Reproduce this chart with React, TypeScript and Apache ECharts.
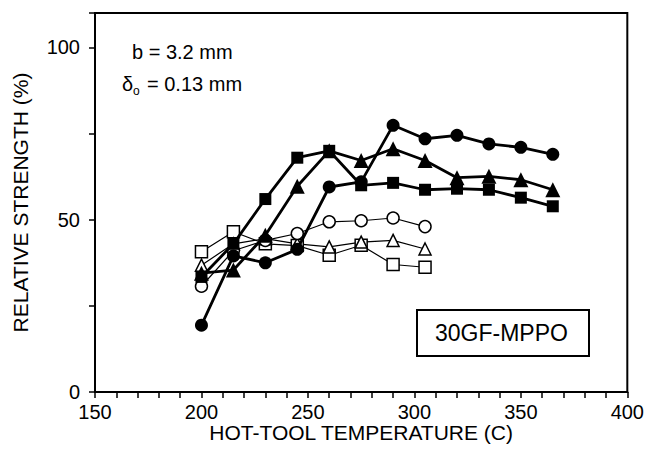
import React, { useEffect, useRef } from "react";
import * as echarts from "echarts";

const temps = [200, 215, 230, 245, 260, 275, 290, 305, 320, 335, 350, 365];
const tempsShort = [200, 215, 230, 245, 260, 275, 290, 305];

const filledCircle = [19.4, 39.5, 37.5, 41.4, 59.5, 61, 77.4, 73.5, 74.5, 72, 71, 69];
const filledSquare = [33.4, 43, 56, 68, 70, 60, 60.7, 58.7, 59, 58.7, 56.4, 53.9];
const filledTriangle = [34.5, 35.4, 45.5, 59.7, 70, 67.2, 70.6, 67.2, 62.2, 62.6, 61.6, 58.7];
const openCircle = [30.7, 41, 44, 46, 49.4, 49.7, 50.5, 48];
const openTriangle = [36.8, 43, 44.5, 43, 42.1, 43.5, 44, 41.5];
const openSquare = [40.7, 46.5, 43, 42.5, 39.7, 42.6, 37, 36.2];

const xLabels = [150, 200, 250, 300, 350, 400];
const yLabels = [0, 50, 100];

const FONT = "'Liberation Sans', Arial, Helvetica, sans-serif";

function pairs(xs: number[], ys: number[]) {
  return ys.map((v, i) => [xs[i], v]);
}

export default function App() {
  const ref = useRef<HTMLDivElement>(null);
  useEffect(() => {
    if (!ref.current) return;
    const chart = echarts.init(ref.current, undefined, { renderer: "svg" });
    const thin = (name: string, data: number[], symbol: string, size: number) => ({
      name,
      type: "line",
      data: pairs(tempsShort, data),
      symbol,
      symbolSize: size,
      lineStyle: { color: "#000", width: 1.2 },
      itemStyle: { color: "#fff", borderColor: "#000", borderWidth: 1.5 },
      z: 2,
    });
    const thick = (name: string, data: number[], symbol: string, size: number) => ({
      name,
      type: "line",
      data: pairs(temps, data),
      symbol,
      symbolSize: size,
      lineStyle: { color: "#000", width: 2.8 },
      itemStyle: { color: "#000", borderColor: "#000", borderWidth: 0 },
      z: 3,
    });
    chart.setOption({
      animation: false,
      backgroundColor: "#fff",
      grid: {
        left: 95,
        right: 17,
        top: 13,
        bottom: 75,
        show: true,
        borderColor: "#000",
        borderWidth: 2,
      },
      xAxis: {
        type: "value",
        min: 150,
        max: 400,
        interval: 10,
        name: "HOT-TOOL TEMPERATURE (C)",
        nameLocation: "middle",
        nameGap: 30,
        nameMoveOverlap: false,
        nameTextStyle: { color: "#000", fontSize: 21, fontFamily: FONT },
        axisLine: { lineStyle: { color: "#000", width: 2 } },
        axisTick: { length: 6, lineStyle: { color: "#000", width: 1.5 } },
        splitLine: { show: false },
        axisLabel: {
          color: "#000",
          fontSize: 20,
          fontFamily: FONT,
          margin: 10,
          formatter: (v: number) => (xLabels.includes(v) ? String(v) : ""),
        },
      },
      yAxis: {
        type: "value",
        min: 0,
        max: 110,
        interval: 25,
        name: "RELATIVE STRENGTH (%)",
        nameLocation: "middle",
        nameGap: 64,
        nameMoveOverlap: false,
        nameTextStyle: { color: "#000", fontSize: 21, fontFamily: FONT },
        axisLine: { lineStyle: { color: "#000", width: 2 } },
        axisTick: { length: 6, lineStyle: { color: "#000", width: 1.5 } },
        splitLine: { show: false },
        axisLabel: {
          color: "#000",
          fontSize: 20,
          fontFamily: FONT,
          margin: 15,
          formatter: (v: number) => (yLabels.includes(v) ? String(v) : ""),
        },
      },
      graphic: [
        {
          type: "text",
          left: 132,
          top: 42,
          style: { text: "b = 3.2 mm", fontSize: 20, fontFamily: FONT, fill: "#000" },
        },
        {
          type: "text",
          left: 122,
          top: 74,
          style: { text: "δ", fontSize: 20, fontFamily: FONT, fill: "#000" },
        },
        {
          type: "text",
          left: 133,
          top: 85,
          style: { text: "o", fontSize: 12, fontFamily: FONT, fill: "#000" },
        },
        {
          type: "text",
          left: 147,
          top: 74,
          style: { text: "= 0.13 mm", fontSize: 20, fontFamily: FONT, fill: "#000" },
        },
        {
          type: "rect",
          left: 416,
          top: 309,
          shape: { width: 172, height: 46 },
          style: { fill: "#fff", stroke: "#000", lineWidth: 2 },
          z: 10,
        },
        {
          type: "text",
          left: 435,
          top: 321,
          style: { text: "30GF-MPPO", fontSize: 23, fontFamily: FONT, fill: "#000" },
          z: 11,
        },
      ],
      series: [
        thin("open square", openSquare, "rect", 12),
        thin("open triangle", openTriangle, "triangle", 12),
        thin("open circle", openCircle, "circle", 12),
        thick("filled circle", filledCircle, "circle", 13),
        thick("filled triangle", filledTriangle, "triangle", 15),
        thick("filled square", filledSquare, "rect", 12),
      ],
    });
    return () => chart.dispose();
  }, []);
  return (
    <div
      ref={ref}
      style={{ position: "fixed", left: 0, top: 0, width: 647, height: 467, background: "#fff" }}
    />
  );
}
